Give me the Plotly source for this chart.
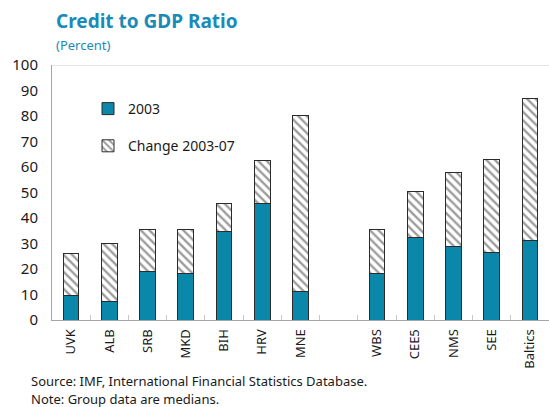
import plotly.graph_objects as go

categories = ["UVK", "ALB", "SRB", "MKD", "BIH", "HRV", "MNE", " ",
              "WBS", "CEE5", "NMS", "SEE", "Baltics"]
base_2003 = [9.5, 7.4, 18.9, 18.2, 34.9, 45.7, 11.1, None,
             18.2, 32.4, 29.0, 26.3, 31.0]
change_03_07 = [16.6, 22.5, 16.4, 17.4, 10.6, 16.7, 69.2, None,
                17.4, 17.9, 28.8, 36.7, 55.9]
y_ticks = [0, 10, 20, 30, 40, 50, 60, 70, 80, 90, 100]

FONT = "Noto Sans"
BLUE = "#0A87A9"
TITLE_BLUE = "#1A8BB8"

W, H = 549, 407
l, r, t, b = 52, 0, 65, 87
pw, ph = W - l - r, H - t - b


def px(xp):
    return (xp - l) / pw


def py(yp):
    return (H - b - yp) / ph


fig = go.Figure()
fig.add_trace(go.Bar(
    x=categories, y=base_2003, name="2003", legendgroup="a",
    marker=dict(color=BLUE, line=dict(color="#2b2b2b", width=1)),
    width=0.41,
))
fig.add_trace(go.Bar(
    x=categories, y=change_03_07, name="Change 2003-07", legendgroup="b",
    marker=dict(color="white", line=dict(color="#2b2b2b", width=1),
                pattern=dict(shape="\\", fgcolor="#3a3a3a", bgcolor="white",
                             size=6, solidity=0.4)),
    width=0.41,
))

fig.update_layout(
    width=W, height=H,
    barmode="stack",
    plot_bgcolor="white", paper_bgcolor="white",
    margin=dict(l=l, r=r, t=t, b=b),
    font=dict(family=FONT, size=14, color="#1a1a1a"),
    showlegend=True,
    legend=dict(x=px(88), y=py(93), xanchor="left", yanchor="top",
                traceorder="grouped", tracegroupgap=16,
                bgcolor="rgba(0,0,0,0)", font=dict(size=14, family=FONT)),
    xaxis=dict(type="category", categoryorder="array", categoryarray=categories,
               tickangle=-90, tickfont=dict(size=13, family=FONT),
               showline=True, linecolor="#a6a6a6", linewidth=1,
               ticks="inside", tickson="boundaries", ticklen=5, tickcolor="#c8c8c8",
               showgrid=False, range=[-0.5, 12.5], ticklabelstandoff=3),
    yaxis=dict(range=[0, 100], tickvals=y_ticks, showgrid=False,
               showline=True, linecolor="#a6a6a6", linewidth=1, ticks="",
               tickfont=dict(size=15, family=FONT), zeroline=False,
               ticklabelstandoff=10),
    shapes=[dict(type="line", xref="paper", yref="y", x0=0, x1=1, y0=100, y1=100,
                 line=dict(color="#d0d0d0", width=1))],
    annotations=[
        dict(text="<b>Credit to GDP Ratio</b>", xref="paper", yref="paper",
             x=px(54), y=py(21), xanchor="left", yanchor="middle", showarrow=False,
             font=dict(size=19, color=TITLE_BLUE, family=FONT)),
        dict(text="(Percent)", xref="paper", yref="paper",
             x=px(54), y=py(45), xanchor="left", yanchor="middle", showarrow=False,
             font=dict(size=13, color=TITLE_BLUE, family=FONT)),
        dict(text="Source: IMF, International Financial Statistics Database.",
             xref="paper", yref="paper", x=px(29), y=py(381), xanchor="left",
             yanchor="middle", showarrow=False,
             font=dict(size=13, color="#1a1a1a", family=FONT)),
        dict(text="Note: Group data are medians.",
             xref="paper", yref="paper", x=px(29), y=py(399), xanchor="left",
             yanchor="middle", showarrow=False,
             font=dict(size=13, color="#1a1a1a", family=FONT)),
    ],
)

fig.write_html("out.html",
               config={"displayModeBar": False},
               post_script="document.body.style.margin='0';document.body.style.padding='0';")
